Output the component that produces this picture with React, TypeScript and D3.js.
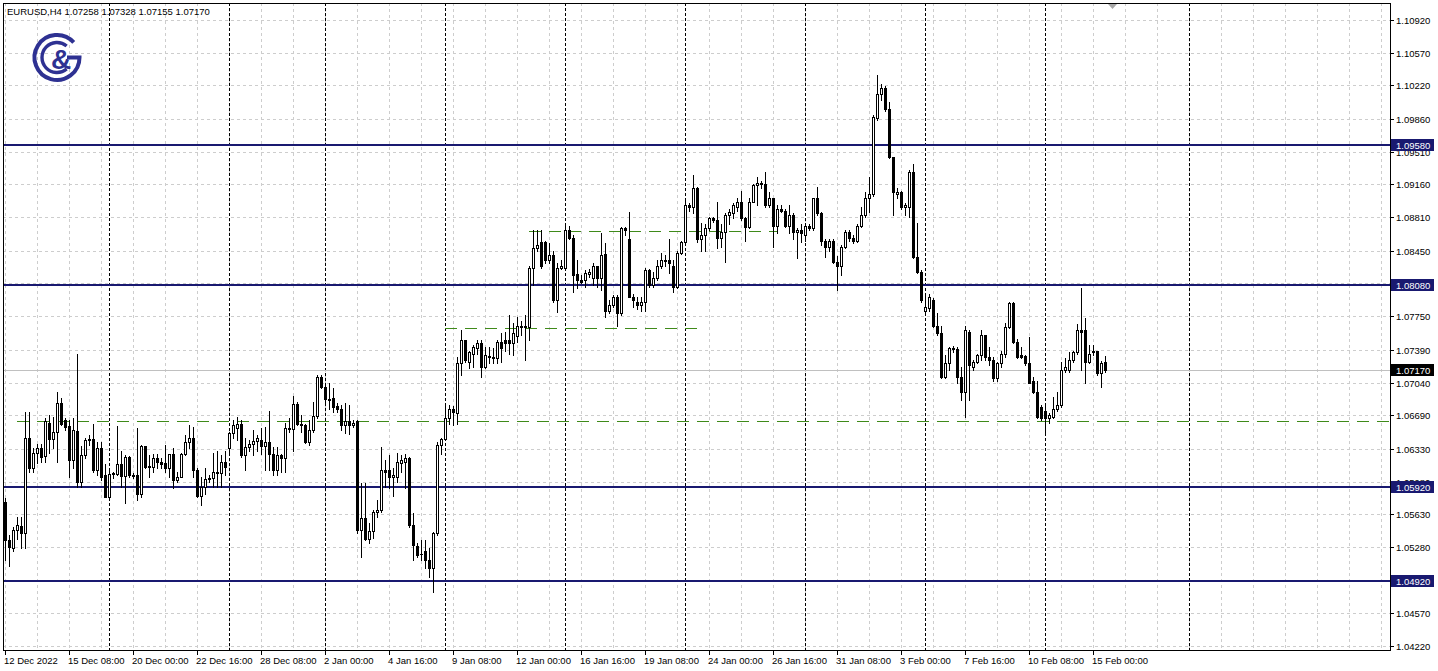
import React from 'react';
import * as d3 from 'd3';

const opens = [
1.0576,1.0535,1.0527,1.0546,1.0550,1.0543,1.0645,1.0612,1.0629,1.0634,
1.0625,1.0661,1.0644,1.0651,1.0682,1.0664,1.0657,1.0621,1.0652,1.0597,
1.0626,1.0642,1.0644,1.0610,1.0634,1.0605,1.0581,1.0607,1.0606,1.0617,
1.0604,1.0624,1.0605,1.0605,1.0585,1.0636,1.0614,1.0614,1.0623,1.0619,
1.0618,1.0612,1.0627,1.0600,1.0603,1.0628,1.0640,1.0645,1.0610,1.0583,
1.0592,1.0601,1.0602,1.0608,1.0607,1.0619,1.0634,1.0650,1.0655,1.0660,
1.0626,1.0635,1.0638,1.0641,1.0642,1.0636,1.0640,1.0628,1.0610,1.0626,
1.0623,1.0655,1.0654,1.0681,1.0660,1.0659,1.0640,1.0653,1.0668,1.0710,
1.0699,1.0686,1.0687,1.0679,1.0676,1.0659,1.0663,1.0658,1.0663,1.0546,
1.0559,1.0537,1.0545,1.0565,1.0568,1.0610,1.0610,1.0603,1.0603,1.0618,
1.0619,1.0623,1.0551,1.0529,1.0521,1.0524,1.0514,1.0505,1.0543,1.0637,
1.0644,1.0666,1.0676,1.0671,1.0725,1.0749,1.0726,1.0735,1.0741,1.0746,
1.0721,1.0732,1.0731,1.0730,1.0747,1.0749,1.0749,1.0746,1.0754,1.0763,
1.0765,1.0763,1.0827,1.0848,1.0854,1.0854,1.0835,1.0841,1.0792,1.0827,
1.0827,1.0867,1.0859,1.0820,1.0814,1.0814,1.0820,1.0816,1.0829,1.0816,
1.0842,1.0781,1.0787,1.0796,1.0778,1.0869,1.0858,1.0796,1.0790,1.0787,
1.0790,1.0824,1.0808,1.0816,1.0829,1.0834,1.0835,1.0829,1.0806,1.0843,
1.0854,1.0894,1.0892,1.0912,1.0858,1.0862,1.0869,1.0880,1.0878,1.0859,
1.0865,1.0883,1.0885,1.0892,1.0897,1.0880,1.0870,1.0897,1.0915,1.0918,
1.0917,1.0894,1.0901,1.0872,1.0890,1.0888,1.0872,1.0883,1.0865,1.0867,
1.0862,1.0872,1.0869,1.0901,1.0885,1.0856,1.0849,1.0856,1.0833,1.0829,
1.0849,1.0865,1.0859,1.0856,1.0872,1.0883,1.0902,1.0906,1.0987,1.1013,
1.1019,1.0997,1.0945,1.0906,1.0908,1.0892,1.0892,1.0929,1.0838,1.0822,
1.0781,1.0784,1.0792,1.0765,1.0757,1.0710,1.0725,1.0741,1.0740,1.0710,
1.0694,1.0758,1.0721,1.0726,1.0733,1.0755,1.0731,1.0728,1.0709,1.0725,
1.0735,1.0763,1.0789,1.0747,1.0733,1.0732,1.0725,1.0706,1.0694,1.0678,
1.0674,1.0666,1.0667,1.0676,1.0680,1.0717,1.0717,1.0728,1.0737,1.0760,
1.0760,1.0726,1.0737,1.0738,1.0714,1.07258
];

const highs = [
1.0580,1.0541,1.0549,1.0560,1.0560,1.0672,1.0672,1.0634,1.0638,1.0638,
1.0666,1.0669,1.0667,1.0694,1.0687,1.0666,1.0664,1.0666,1.0735,1.0636,
1.0645,1.0648,1.0660,1.0640,1.0640,1.0617,1.0610,1.0608,1.0657,1.0631,
1.0626,1.0625,1.0607,1.0655,1.0637,1.0636,1.0626,1.0628,1.0628,1.0623,
1.0637,1.0628,1.0634,1.0608,1.0629,1.0648,1.0658,1.0656,1.0612,1.0603,
1.0612,1.0605,1.0629,1.0631,1.0626,1.0631,1.0651,1.0664,1.0667,1.0664,
1.0645,1.0642,1.0653,1.0648,1.0655,1.0656,1.0674,1.0635,1.0635,1.0628,
1.0661,1.0666,1.0690,1.0683,1.0669,1.0660,1.0664,1.0683,1.0712,1.0712,
1.0704,1.0703,1.0698,1.0682,1.0680,1.0682,1.0680,1.0664,1.0664,1.0596,
1.0596,1.0554,1.0568,1.0578,1.0635,1.0621,1.0626,1.0612,1.0629,1.0626,
1.0628,1.0624,1.0564,1.0532,1.0535,1.0535,1.0527,1.0544,1.0640,1.0645,
1.0680,1.0680,1.0679,1.0731,1.0760,1.0750,1.0738,1.0744,1.0749,1.0749,
1.0742,1.0742,1.0741,1.0749,1.0757,1.0758,1.0776,1.0768,1.0774,1.0770,
1.0776,1.0829,1.0867,1.0867,1.0867,1.0856,1.0853,1.0845,1.0832,1.0835,
1.0872,1.0872,1.0862,1.0835,1.0819,1.0824,1.0826,1.0832,1.0829,1.0864,
1.0853,1.0792,1.0798,1.0798,1.0870,1.0870,1.0886,1.0799,1.0796,1.0796,
1.0827,1.0826,1.0822,1.0835,1.0843,1.0840,1.0858,1.0835,1.0845,1.0856,
1.0899,1.0896,1.0926,1.0913,1.0875,1.0874,1.0881,1.0881,1.0897,1.0874,
1.0885,1.0890,1.0896,1.0902,1.0909,1.0881,1.0902,1.0917,1.0924,1.0920,
1.0929,1.0908,1.0902,1.0894,1.0894,1.0890,1.0894,1.0885,1.0869,1.0874,
1.0874,1.0874,1.0902,1.0913,1.0886,1.0858,1.0858,1.0858,1.0839,1.0851,
1.0867,1.0867,1.0862,1.0874,1.0892,1.0908,1.0924,1.0990,1.1033,1.1024,
1.1021,1.1004,1.0945,1.0912,1.0909,1.0896,1.0931,1.0938,1.0875,1.0824,
1.0798,1.0799,1.0794,1.0778,1.0765,1.0733,1.0742,1.0743,1.0742,1.0721,
1.0765,1.0760,1.0728,1.0735,1.0760,1.0755,1.0742,1.0731,1.0726,1.0738,
1.0768,1.0790,1.0790,1.0751,1.0742,1.0733,1.0753,1.0710,1.0706,1.0680,
1.0680,1.0671,1.0688,1.0694,1.0726,1.0730,1.0737,1.0738,1.0767,1.0805,
1.0773,1.0744,1.0744,1.0738,1.0727,1.07328
];

const lows = [
1.0514,1.0508,1.0524,1.0537,1.0527,1.0527,1.0608,1.0608,1.0618,1.0619,
1.0619,1.0629,1.0634,1.0619,1.0659,1.0653,1.0603,1.0613,1.0592,1.0592,
1.0623,1.0637,1.0608,1.0605,1.0600,1.0581,1.0581,1.0602,1.0605,1.0592,
1.0575,1.0603,1.0602,1.0578,1.0581,1.0613,1.0603,1.0608,1.0613,1.0612,
1.0608,1.0603,1.0591,1.0597,1.0603,1.0626,1.0634,1.0603,1.0581,1.0573,
1.0585,1.0597,1.0592,1.0592,1.0592,1.0605,1.0629,1.0645,1.0642,1.0624,
1.0610,1.0631,1.0626,1.0631,1.0628,1.0610,1.0610,1.0605,1.0605,1.0608,
1.0608,1.0651,1.0631,1.0658,1.0651,1.0639,1.0637,1.0651,1.0666,1.0698,
1.0683,1.0676,1.0672,1.0672,1.0653,1.0650,1.0649,1.0656,1.0543,1.0517,
1.0535,1.0532,1.0538,1.0560,1.0565,1.0592,1.0591,1.0583,1.0597,1.0608,
1.0591,1.0549,1.0514,1.0517,1.0514,1.0506,1.0496,1.0480,1.0541,1.0628,
1.0642,1.0660,1.0658,1.0660,1.0712,1.0726,1.0720,1.0721,1.0735,1.0710,
1.0720,1.0725,1.0725,1.0725,1.0726,1.0738,1.0735,1.0733,1.0747,1.0755,
1.0728,1.0749,1.0808,1.0845,1.0827,1.0832,1.0832,1.0790,1.0779,1.0826,
1.0826,1.0858,1.0801,1.0805,1.0810,1.0806,1.0817,1.0808,1.0806,1.0803,
1.0774,1.0778,1.0785,1.0765,1.0776,1.0862,1.0795,1.0785,1.0783,1.0781,
1.0781,1.0806,1.0806,1.0814,1.0827,1.0829,1.0821,1.0801,1.0805,1.0842,
1.0851,1.0888,1.0885,1.0854,1.0845,1.0845,1.0867,1.0876,1.0848,1.0849,
1.0833,1.0874,1.0880,1.0888,1.0878,1.0856,1.0869,1.0897,1.0894,1.0912,
1.0892,1.0892,1.0849,1.0864,1.0886,1.0870,1.0864,1.0858,1.0837,1.0854,
1.0856,1.0867,1.0867,1.0883,1.0851,1.0838,1.0845,1.0832,1.0803,1.0819,
1.0848,1.0856,1.0853,1.0854,1.0870,1.0881,1.0886,1.0904,1.0985,1.1006,
1.0995,1.0944,1.0883,1.0901,1.0890,1.0883,1.0881,1.0837,1.0821,1.0790,
1.0779,1.0781,1.0763,1.0755,1.0709,1.0709,1.0717,1.0737,1.0703,1.0685,
1.0667,1.0685,1.0717,1.0725,1.0728,1.0728,1.0723,1.0706,1.0706,1.0721,
1.0731,1.0762,1.0746,1.0730,1.0730,1.0723,1.0703,1.0693,1.0666,1.0664,
1.0650,1.0661,1.0666,1.0674,1.0678,1.0715,1.0715,1.0726,1.0735,1.0717,
1.0704,1.0725,1.0733,1.0712,1.0699,1.07155
];

const closes = [
1.0535,1.0528,1.0546,1.0551,1.0543,1.0645,1.0612,1.0629,1.0634,1.0624,
1.0663,1.0644,1.0651,1.0682,1.0660,1.0656,1.0621,1.0653,1.0597,1.0626,
1.0642,1.0644,1.0610,1.0634,1.0603,1.0581,1.0606,1.0606,1.0617,1.0604,
1.0624,1.0605,1.0604,1.0585,1.0636,1.0614,1.0615,1.0623,1.0619,1.0617,
1.0612,1.0627,1.0600,1.0603,1.0628,1.0640,1.0645,1.0610,1.0583,1.0592,
1.0601,1.0602,1.0608,1.0607,1.0619,1.0614,1.0650,1.0658,1.0660,1.0626,
1.0635,1.0638,1.0641,1.0645,1.0636,1.0640,1.0628,1.0610,1.0626,1.0623,
1.0655,1.0654,1.0681,1.0660,1.0659,1.0640,1.0653,1.0668,1.0710,1.0699,
1.0686,1.0685,1.0678,1.0676,1.0659,1.0663,1.0658,1.0661,1.0546,1.0559,
1.0537,1.0545,1.0565,1.0568,1.0610,1.0608,1.0603,1.0605,1.0619,1.0621,
1.0623,1.0551,1.0530,1.0519,1.0520,1.0514,1.0505,1.0543,1.0637,1.0644,
1.0666,1.0676,1.0672,1.0725,1.0749,1.0728,1.0737,1.0742,1.0746,1.0721,
1.0733,1.0731,1.0730,1.0747,1.0741,1.0746,1.0746,1.0757,1.0765,1.0765,
1.0763,1.0827,1.0848,1.0851,1.0829,1.0835,1.0840,1.0792,1.0827,1.0829,
1.0867,1.0859,1.0819,1.0814,1.0812,1.0821,1.0822,1.0829,1.0816,1.0841,
1.0781,1.0787,1.0796,1.0778,1.0869,1.0867,1.0796,1.0792,1.0787,1.0790,
1.0824,1.0808,1.0816,1.0829,1.0835,1.0835,1.0832,1.0806,1.0843,1.0854,
1.0894,1.0892,1.0912,1.0858,1.0862,1.0869,1.0880,1.0878,1.0859,1.0865,
1.0883,1.0886,1.0894,1.0897,1.0880,1.0870,1.0897,1.0915,1.0918,1.0917,
1.0894,1.0901,1.0872,1.0890,1.0888,1.0872,1.0883,1.0865,1.0867,1.0864,
1.0872,1.0869,1.0901,1.0885,1.0856,1.0849,1.0856,1.0833,1.0829,1.0849,
1.0865,1.0859,1.0856,1.0872,1.0883,1.0902,1.0906,1.0988,1.1013,1.1019,
1.0997,1.0945,1.0908,1.0908,1.0892,1.0894,1.0929,1.0838,1.0822,1.0792,
1.0785,1.0796,1.0765,1.0757,1.0710,1.0725,1.0741,1.0740,1.0710,1.0694,
1.0760,1.0723,1.0726,1.0733,1.0755,1.0731,1.0728,1.0709,1.0725,1.0735,
1.0763,1.0789,1.0747,1.0731,1.0731,1.0725,1.0704,1.0694,1.0667,1.0666,
1.0666,1.0669,1.0676,1.0680,1.0717,1.0721,1.0728,1.0737,1.0760,1.0758,
1.0726,1.0735,1.0738,1.0714,1.0725,1.07170
];

const priceTicks = [1.1092, 1.1057, 1.1022, 1.0986, 1.0951, 1.0916, 1.0881, 1.0845, 1.0810, 1.0775,
  1.0739, 1.0704, 1.0669, 1.0633, 1.0598, 1.0563, 1.0528, 1.0492, 1.0457, 1.0422];

const timeTickIndex = [0, 16, 32, 48, 64, 80, 96, 112, 128, 144, 160, 176, 192, 208, 224, 240, 256, 272];
const timeTickLabels = ['12 Dec 2022', '15 Dec 08:00', '20 Dec 00:00', '22 Dec 16:00', '28 Dec 08:00',
  '2 Jan 00:00', '4 Jan 16:00', '9 Jan 08:00', '12 Jan 00:00', '16 Jan 16:00', '19 Jan 08:00',
  '24 Jan 00:00', '26 Jan 16:00', '31 Jan 08:00', '3 Feb 00:00', '7 Feb 16:00', '10 Feb 08:00', '15 Feb 00:00'];

const separatorIndex = [26, 56, 80, 110, 140, 170, 200, 230, 260, 296];
const levelPrices = [1.0958, 1.0808, 1.0592, 1.0492];
const zonePrices = [1.0663, 1.0866, 1.0762];
const zoneFrom = [3, 131, 110];
const zoneTo = [346.25, 193, 174];

const symbol = 'EURUSD,H4';

const W = 1438;
const H = 671;
const L = 3;
const T = 3;
const R = 1390;
const B = 650;

const NAVY = '#191970';
const GREEN = '#3f8a1a';
const GRID = '#cdcdcd';
const LOGO = '#2e3192';
const FONT = '"Liberation Sans", Arial, sans-serif';

export default function App() {
  const x = d3.scaleLinear().domain([0, 346.25]).range([5, R]);
  const y = d3.scaleLinear().domain([1.0422, 1.1092]).range([646, 20]);
  const n = closes.length;
  const last = n - 1;
  const py = (p: number) => Math.round(y(p));
  const gridIdx = d3.range(0, 345, 8);

  const candles = d3.range(n).map((i) => {
    const xi = Math.round(x(i));
    const o = opens[i], c = closes[i], hi = highs[i], lo = lows[i];
    const top = py(Math.max(o, c));
    const bot = py(Math.min(o, c));
    const yh = py(hi), yl = py(lo);
    const wick = <rect key={'w' + i} x={xi} y={yh} width={1} height={Math.max(1, yl - yh + 1)} fill="#000" />;
    let body;
    if (bot - top <= 0) {
      body = <rect key={'b' + i} x={xi - 1} y={top} width={3} height={1} fill="#000" />;
    } else if (c > o) {
      body = <rect key={'b' + i} x={xi - 0.5} y={top + 0.5} width={2} height={bot - top} fill="#fff" stroke="#000" strokeWidth={1} />;
    } else {
      body = <rect key={'b' + i} x={xi - 1} y={top} width={3} height={bot - top + 1} fill="#000" />;
    }
    return <g key={i}>{wick}{body}</g>;
  });

  const header = `${symbol}  ${opens[last].toFixed(5)} ${highs[last].toFixed(5)} ${lows[last].toFixed(5)} ${closes[last].toFixed(5)}`;

  const cx = 57, cy = 57.5;
  const ro = 22.5, ri = 15;
  const pt = (r: number, deg: number) => {
    const a = (deg * Math.PI) / 180;
    return `${cx + r * Math.cos(a)},${cy + r * Math.sin(a)}`;
  };
  const gPath = `M${pt(ro, -42)} A${ro},${ro} 0 1 0 ${pt(ro, 0)} L${cx + 10},${cy}`;
  const cPath = `M${pt(ri, -50)} A${ri},${ri} 0 1 0 ${pt(ri, 50)}`;

  return (
    <svg width={W} height={H} style={{ position: 'absolute', left: 0, top: 0, background: '#fff' }} fontFamily={FONT}>
      <rect x={0} y={0} width={W} height={H} fill="#fff" />
      <g shapeRendering="crispEdges">
        {gridIdx.map((i) => (
          <line key={'gv' + i} x1={Math.round(x(i)) + 0.5} x2={Math.round(x(i)) + 0.5} y1={T} y2={B} stroke={GRID} strokeDasharray="3,3" />
        ))}
        {priceTicks.map((p) => (
          <line key={'gh' + p} x1={L} x2={R} y1={py(p) + 0.5} y2={py(p) + 0.5} stroke={GRID} strokeDasharray="3,3" />
        ))}
        {separatorIndex.map((i) => (
          <line key={'sep' + i} x1={Math.round(x(i)) + 0.5} x2={Math.round(x(i)) + 0.5} y1={T} y2={B} stroke="#000" strokeDasharray="3,2" />
        ))}
        <line x1={L} x2={R} y1={py(closes[last]) + 0.5} y2={py(closes[last]) + 0.5} stroke="#c0c0c0" />
        {zonePrices.map((p, k) => (
          <line key={'z' + k} x1={x(zoneFrom[k])} x2={x(zoneTo[k])} y1={py(p) + 0.5} y2={py(p) + 0.5} stroke={GREEN} strokeDasharray="12,8" />
        ))}
        {levelPrices.map((p) => (
          <rect key={'lv' + p} x={L} y={py(p) - 1} width={R - L} height={2} fill={NAVY} />
        ))}
        {candles}
      </g>

      <g>
        <path d={gPath} fill="none" stroke={LOGO} strokeWidth={4} />
        <path d={cPath} fill="none" stroke={LOGO} strokeWidth={3.4} />
        <text x={61} y={69} textAnchor="middle" fontSize={28} fontWeight="bold" fill={LOGO} fontFamily={FONT}>&amp;</text>
      </g>

      <path d="M1108,4 L1117,4 L1112.5,9 Z" fill="#a8a8a8" />

      <g shapeRendering="crispEdges">
        <rect x={L + 0.5} y={T + 0.5} width={R - L} height={B - T} fill="none" stroke="#000" />
        {priceTicks.map((p) => (
          <line key={'pt' + p} x1={R} x2={R + 4} y1={py(p) + 0.5} y2={py(p) + 0.5} stroke="#000" />
        ))}
        {timeTickIndex.map((i) => (
          <line key={'tt' + i} x1={Math.round(x(i)) + 0.5} x2={Math.round(x(i)) + 0.5} y1={B} y2={B + 5} stroke="#000" />
        ))}
      </g>

      <text x={7} y={15} fontSize={9.5} fill="#000">{header}</text>

      {priceTicks.map((p) => (
        <text key={'pl' + p} x={1396} y={py(p) + 3.5} fontSize={9.5} fill="#000">{p.toFixed(5)}</text>
      ))}
      {timeTickIndex.map((i, k) => (
        <text key={'tl' + i} x={Math.round(x(i)) - 1} y={664} fontSize={9.5} fill="#000">{timeTickLabels[k]}</text>
      ))}

      <g shapeRendering="crispEdges">
        {levelPrices.map((p) => (
          <g key={'lb' + p}>
            <rect x={1391} y={py(p) - 6} width={43} height={12} fill={NAVY} />
            <text x={1396} y={py(p) + 3.5} fontSize={9.5} fill="#fff">{p.toFixed(5)}</text>
          </g>
        ))}
        <rect x={1391} y={py(closes[last]) - 6} width={43} height={12} fill="#000" />
        <text x={1396} y={py(closes[last]) + 3.5} fontSize={9.5} fill="#fff">{closes[last].toFixed(5)}</text>
      </g>
    </svg>
  );
}
